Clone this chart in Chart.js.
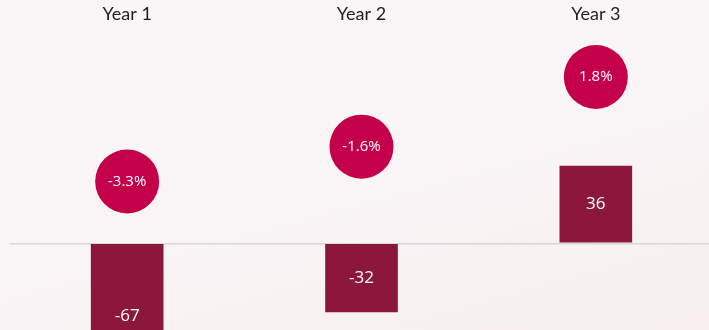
<!DOCTYPE html>
<html>
<head>
<meta charset="utf-8">
<script src="https://cdn.jsdelivr.net/npm/chart.js@4.4.1/dist/chart.umd.min.js"></script>
<style>
  html, body { margin: 0; padding: 0; overflow: hidden; }
  body {
    width: 709px; height: 330px;
    background: linear-gradient(165deg, #faf6f7 0%, #f9f4f5 55%, #f7eff0 100%);
  }
  #wrap { position: relative; width: 713px; height: 330px; }
</style>
</head>
<body>
<div id="wrap"><canvas id="change-chart"></canvas></div>
<script>
const years = ['Year 1', 'Year 2', 'Year 3']
const changeValues = [-67, -32, 36]
const changePercent = [-3.3, -1.6, 1.8]

const canvas = document.getElementById('change-chart')

// white numbers on the bars and inside the circles
const valueLabels = {
    id: 'valueLabels',
    afterDatasetsDraw(chart) {
        const ctx = chart.ctx
        ctx.save()
        ctx.fillStyle = '#ffffff'
        ctx.textAlign = 'center'
        ctx.textBaseline = 'middle'
        ctx.font = '17px "Open Sans"'
        chart.getDatasetMeta(1).data.forEach((bar, i) => {
            ctx.fillText(changeValues[i], bar.x, (bar.y + bar.base) / 2)
        })
        ctx.font = '15px "Open Sans"'
        chart.getDatasetMeta(0).data.forEach((pt, i) => {
            ctx.fillText(changePercent[i] + '%', pt.x, pt.y)
        })
        ctx.restore()
    }
}

let changeChart = new Chart(canvas, {
    data: {
        labels: years,
        datasets: [{
            type: 'line',
            data: changePercent,
            yAxisID: 'y1',
            showLine: false,
            pointRadius: 32,
            pointHoverRadius: 32,
            pointBackgroundColor: '#c4004a',
            pointBorderWidth: 0,
            order: 0
        }, {
            type: 'bar',
            data: changeValues,
            yAxisID: 'y',
            backgroundColor: '#8b183a',
            borderWidth: 0,
            barPercentage: 0.31,
            categoryPercentage: 1,
            order: 1
        }]
    },
    options: {
        responsive: true,
        maintainAspectRatio: false,
        animation: { duration: 0 },
        layout: { autoPadding: false, padding: { left: 10, right: 0, top: 0, bottom: 0 } },
        plugins: {
            legend: { display: false },
            tooltip: { enabled: false }
        },
        scales: {
            x: {
                position: 'top',
                grid: { display: false },
                border: { display: false },
                ticks: {
                    color: '#1e1e1e',
                    font: { family: 'Lato', size: 18 },
                    padding: 3
                }
            },
            y: {
                min: -40.18,
                max: 96.35,
                border: { display: false },
                ticks: { display: false },
                afterFit: scale => { scale.width = 0 },
                grid: {
                    drawTicks: false,
                    lineWidth: 1.5,
                    color: ctx => ctx.tick.value === 0 ? '#d9d6d7' : 'transparent'
                }
            },
            y1: {
                display: false,
                min: -10.55,
                max: 3.82
            }
        }
    },
    plugins: [valueLabels]
})
</script>
</body>
</html>
